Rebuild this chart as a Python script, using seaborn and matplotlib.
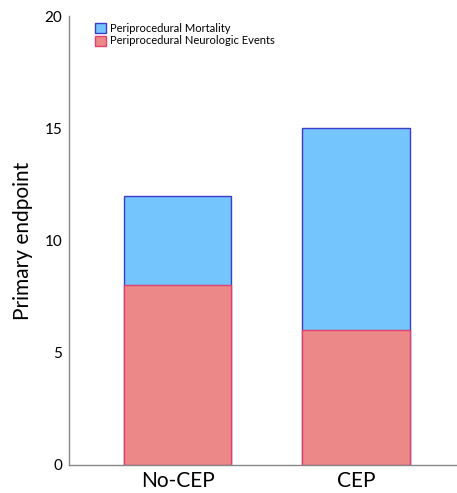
import matplotlib
matplotlib.use("Agg")
import matplotlib.pyplot as plt
from matplotlib.patches import Patch
import seaborn as sns
import pandas as pd

categories = ["No-CEP", "CEP"]
neuro_events = [8, 6]
mortality = [4, 9]
series_labels = ["Periprocedural Mortality", "Periprocedural Neurologic Events"]
y_ticks = [0, 5, 10, 15, 20]

totals = [n + m for n, m in zip(neuro_events, mortality)]
df = pd.DataFrame({"group": categories, "neuro": neuro_events, "total": totals})

sns.set_style("white")
plt.rcParams["font.family"] = ["Lato", "DejaVu Sans"]
plt.rcParams["text.color"] = "black"
plt.rcParams["axes.labelcolor"] = "black"
plt.rcParams["xtick.color"] = "black"
plt.rcParams["ytick.color"] = "black"

blue_fill, blue_edge = "#74c4fd", "#3c3cc8"
red_fill, red_edge = "#ec8888", "#e0406a"

fig = plt.figure(figsize=(4.57, 4.93), dpi=100)
ax = fig.add_axes([0.151, 0.0568, 0.849, 0.9107])

sns.barplot(data=df, x="group", y="total", color=blue_fill, edgecolor=blue_edge,
            linewidth=1.0, width=0.6, saturation=1, ax=ax)
sns.barplot(data=df, x="group", y="neuro", color=red_fill, edgecolor=red_edge,
            linewidth=1.0, width=0.6, saturation=1, ax=ax)

ax.set_xlim(-0.608, 1.566)
ax.set_ylim(0, 20)
ax.set_yticks(y_ticks)
ax.set_yticklabels([str(t) for t in y_ticks], fontsize=11)
ax.tick_params(axis="x", labelsize=15, length=0, pad=4, colors="black")
ax.tick_params(axis="y", length=0, pad=5, colors="black")
ax.set_xlabel("")
ax.set_ylabel("Primary endpoint", fontsize=15, labelpad=8, color="black")
for s in ["top", "right"]:
    ax.spines[s].set_visible(False)
for s in ["left", "bottom"]:
    ax.spines[s].set_color("#888888")
    ax.spines[s].set_linewidth(1.0)

handles = [Patch(facecolor=blue_fill, edgecolor=blue_edge, linewidth=1.0),
           Patch(facecolor=red_fill, edgecolor=red_edge, linewidth=1.0)]
ax.legend(handles, series_labels, loc="upper left", bbox_to_anchor=(0.05, 1.0),
          frameon=False, fontsize=8, handlelength=1.0, handleheight=1.0,
          handletextpad=0.3, labelspacing=0.15, borderaxespad=0.2)

fig.savefig("out.png", dpi=100)
